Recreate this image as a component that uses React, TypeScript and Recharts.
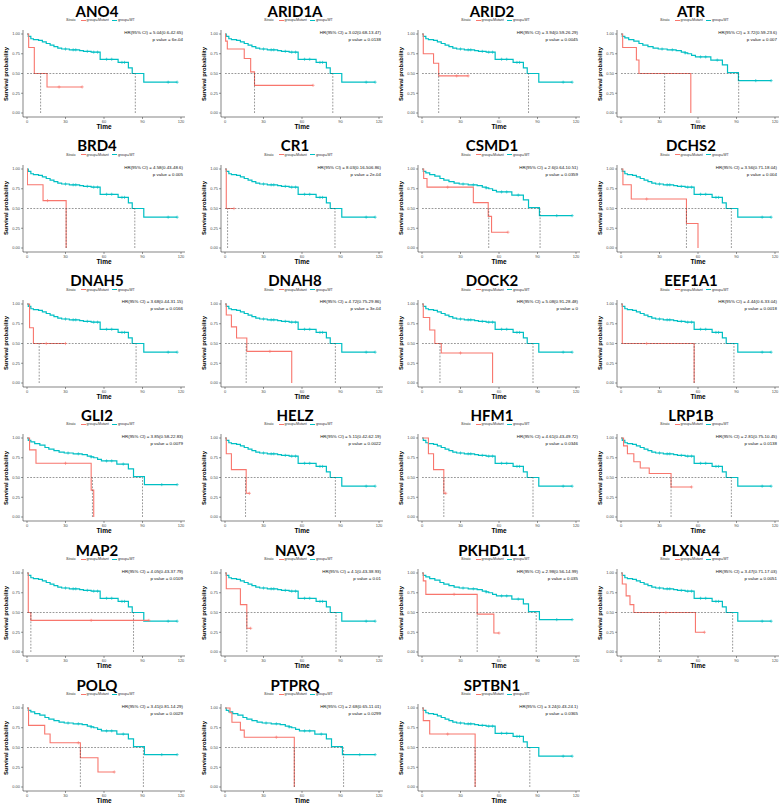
import React from 'react'
import { LineChart, Line, XAxis, YAxis, ReferenceLine } from 'recharts'

// [time, survival, censored?]
type Pt = [number, number, number?]

const genes = [
  'ANO4', 'ARID1A', 'ARID2', 'ATR',
  'BRD4', 'CR1', 'CSMD1', 'DCHS2',
  'DNAH5', 'DNAH8', 'DOCK2', 'EEF1A1',
  'GLI2', 'HELZ', 'HFM1', 'LRP1B',
  'MAP2', 'NAV3', 'PKHD1L1', 'PLXNA4',
  'POLQ', 'PTPRQ', 'SPTBN1',
]

const hrText = [
  '5.04(0.6-42.65)', '3.02(0.68-13.47)', '3.94(0.59-26.29)', '3.72(0.59-23.6)',
  '4.58(0.43-48.6)', '8.03(0.16-506.86)', '2.6(0.64-10.51)', '3.56(0.71-18.04)',
  '3.68(0.44-31.15)', '4.72(0.75-29.86)', '5.08(0.91-28.48)', '4.44(0.6-33.04)',
  '3.85(0.58-22.83)', '5.11(0.42-62.19)', '4.61(0.43-49.72)', '2.81(0.75-10.45)',
  '4.05(0.43-37.79)', '4.1(0.43-38.93)', '2.98(0.56-14.99)', '3.47(0.71-17.03)',
  '3.41(0.81-14.29)', '2.68(0.65-11.01)', '3.24(0.43-24.1)',
]

const pValues = [
  '6e-04', '0.0138', '0.0045', '0.007',
  '0.005', '2e-04', '0.0359', '0.004',
  '0.0166', '3e-04', '0', '0.0018',
  '0.0079', '0.0022', '0.0346', '0.0138',
  '0.0109', '0.01', '0.035', '0.0051',
  '0.0029', '0.0299', '0.0365',
]

const mutMedian = [10.6, 23, 13, 34, 30.5, 2, 52, 51, 9.5, 16.5, 14, 57, 51, 16, 17, 39, 3, 17, 43, 30, 41.6, 54, 41.4]
const wtMedian = [84.4, 84, 83, 91.7, 84, 85.7, 92, 86, 85, 86, 86.5, 88, 90, 86, 86.5, 86, 83, 86.5, 89, 87, 90.7, 92.4, 84]

// wild-type curves (two shapes seen across panels)
const wtA: Pt[] = [
  [0, 1], [1, 0.97], [3, 0.94], [5, 0.93], [9, 0.92], [12, 0.9], [15, 0.88], [18, 0.86],
  [21, 0.84], [24, 0.82], [27, 0.81], [30, 0.81, 1], [33, 0.8], [36, 0.8, 1], [38, 0.8, 1],
  [41, 0.79], [44, 0.78], [47, 0.78, 1], [50, 0.77], [52, 0.77, 1], [55, 0.77, 1], [57, 0.68],
  [62, 0.68, 1], [66, 0.68, 1], [71, 0.64], [74, 0.64, 1], [76, 0.64, 1], [79, 0.57], [82, 0.5],
  [91, 0.39], [110, 0.39, 1], [117, 0.39, 1],
]
const wtB: Pt[] = [
  [0, 1], [1, 0.97], [3, 0.95], [6, 0.93], [10, 0.91], [14, 0.88], [17, 0.86], [21, 0.84],
  [25, 0.82], [29, 0.81], [32, 0.81, 1], [36, 0.8], [40, 0.8, 1], [43, 0.79], [47, 0.77],
  [50, 0.76, 1], [52, 0.75], [55, 0.73], [58, 0.71], [62, 0.71, 1], [66, 0.71, 1], [70, 0.67],
  [75, 0.67, 1], [79, 0.61], [83, 0.51], [91.5, 0.41], [105, 0.41, 1], [117, 0.41, 1],
]
const wtLateGenes = ['ATR', 'CSMD1', 'GLI2', 'PKHD1L1', 'POLQ', 'PTPRQ']

// mutant curves
const ano4Mut: Pt[] = [[0, 1], [1.3, 0.83], [5.7, 0.5], [15.6, 0.33], [25, 0.33, 1], [43, 0.33, 1]]
const arid1aMut: Pt[] = [[0, 1], [0.5, 0.91], [1.8, 0.81], [15, 0.69], [20, 0.52], [23, 0.35], [68.6, 0.35, 1]]
const arid2Mut: Pt[] = [[0, 1], [1, 0.75], [9, 0.63], [13, 0.47], [27, 0.47, 1], [36, 0.47, 1]]
const atrMut: Pt[] = [[0, 1], [1.3, 0.83], [12, 0.67], [14, 0.5], [54.4, 0]]
const brd4Mut: Pt[] = [[0, 1], [0.3, 0.8], [12.5, 0.6], [16, 0.6, 1], [30.5, 0]]
const cr1Mut: Pt[] = [[0, 1], [1, 0.5], [7, 0.5, 1]]
const csmd1Mut: Pt[] = [[0, 1], [1.3, 0.88], [3.9, 0.77], [20, 0.77, 1], [40, 0.575], [51.6, 0.4], [54.2, 0.2], [67, 0.2, 1]]
const dchs2Mut: Pt[] = [[0, 1], [1.5, 0.8], [8, 0.62], [20, 0.62, 1], [51, 0.31], [60, 0]]
const dnah5Mut: Pt[] = [[0, 1], [2, 0.7], [5, 0.5], [15, 0.5, 1], [30, 0.5, 1]]
const dnah8Mut: Pt[] = [[0, 1], [1, 0.86], [5, 0.71], [9, 0.57], [17, 0.4], [35, 0.4, 1], [52, 0]]
const dock2Mut: Pt[] = [[0, 1], [1, 0.83], [6, 0.67], [10, 0.5], [15, 0.38], [30, 0.38, 1], [55, 0]]
const eef1a1Mut: Pt[] = [[0, 1], [1, 0.5], [20, 0.5, 1], [57, 0]]
const gli2Mut: Pt[] = [[0, 1], [2, 0.85], [7, 0.68], [30, 0.68, 1], [50, 0.34], [52, 0]]
const helzMut: Pt[] = [[0, 1], [1, 0.8], [5, 0.6], [16.5, 0.3], [19, 0.3, 1]]
const hfm1Mut: Pt[] = [[0, 1], [5, 0.8], [9, 0.6], [17, 0.3], [18.5, 0.3, 1]]
const lrp1bMut: Pt[] = [[0, 1], [2, 0.9], [5, 0.8], [10, 0.7], [15, 0.62], [22, 0.55], [39, 0.38], [55, 0.38, 1]]
const map2Mut: Pt[] = [[0, 1], [1, 0.5], [3, 0.4], [50, 0.4, 1], [95, 0.4, 1]]
const nav3Mut: Pt[] = [[0, 1], [1, 0.8], [12, 0.6], [17, 0.3], [20, 0.3, 1]]
const pkhd1l1Mut: Pt[] = [[0, 1], [1, 0.9], [3, 0.73], [25, 0.73, 1], [43, 0.48], [56, 0.24], [60, 0.24, 1]]
const plxna4Mut: Pt[] = [[0, 1], [1, 0.86], [4, 0.71], [7, 0.6], [10, 0.5], [35, 0.5, 1], [58, 0.25], [65, 0.25, 1]]
const polqMut: Pt[] = [[0, 1], [1.2, 0.78], [13.8, 0.67], [18, 0.56], [40, 0.56, 1], [41.6, 0.37], [55.3, 0.19], [68, 0.19, 1]]
const ptprqMut: Pt[] = [[0, 1], [3.9, 0.94], [5.4, 0.82], [12, 0.72], [15, 0.63], [40, 0.63, 1], [54, 0]]
const sptbn1Mut: Pt[] = [[0, 1], [1, 0.84], [6, 0.67], [20, 0.67, 1], [41.4, 0]]

const mutCurves = [
  ano4Mut, arid1aMut, arid2Mut, atrMut, brd4Mut, cr1Mut, csmd1Mut, dchs2Mut,
  dnah5Mut, dnah8Mut, dock2Mut, eef1a1Mut, gli2Mut, helzMut, hfm1Mut, lrp1bMut,
  map2Mut, nav3Mut, pkhd1l1Mut, plxna4Mut, polqMut, ptprqMut, sptbn1Mut,
]

const xTicks = [0, 30, 60, 90, 120]
const yTicks = [0, 0.25, 0.5, 0.75, 1]

const RED = '#F8766D'
const TEAL = '#00BFC4'
const colX = [0, 198, 395, 594]
const rowY = [0, 134.8, 269.6, 404.4, 539.2, 674]

const toRows = (pts: Pt[]) => pts.map(([t, s, c]) => ({ t, s, c: c ? 1 : 0 }))

function censorDot(color: string) {
  return (props: any) => {
    const { cx, cy, payload, index } = props
    if (!payload || !payload.c || cx == null) return <g key={`d${index}`} />
    return (
      <path
        key={`d${index}`}
        d={`M${cx - 1.6},${cy}H${cx + 1.6}M${cx},${cy - 1.6}V${cy + 1.6}`}
        stroke={color}
        strokeWidth={0.6}
      />
    )
  }
}

const small = { fontFamily: '"Liberation Sans", Arial, sans-serif' }

function KmPanel({ i }: { i: number }) {
  const left = colX[i % 4]
  const top = rowY[Math.floor(i / 4)]
  const mm = mutMedian[i]
  const wm = wtMedian[i]
  const wt = wtLateGenes.includes(genes[i]) ? wtB : wtA
  const dash = { stroke: '#444', strokeWidth: 0.55, strokeDasharray: '1.8 1.4' }

  return (
    <div style={{ position: 'absolute', left, top, width: 190, height: 134 }}>
      <div style={{
        position: 'absolute', left: 0, width: 194, top: 3.5, textAlign: 'center',
        fontFamily: 'Lato, sans-serif', fontWeight: 700, fontSize: 15, lineHeight: '15px',
      }}>{genes[i]}</div>

      <div style={{
        ...small, position: 'absolute', left: 66, top: 18, fontSize: 3.6, lineHeight: '4px',
        display: 'flex', alignItems: 'center', color: '#333', whiteSpace: 'nowrap',
      }}>
        <span style={{ fontStyle: 'italic', marginRight: 5 }}>Strata</span>
        <span style={{ width: 5, height: 0.8, background: RED, marginRight: 1 }} />
        <span style={{ marginRight: 3 }}>group=Mutant</span>
        <span style={{ width: 5, height: 0.8, background: TEAL, marginRight: 1 }} />
        <span>group=WT</span>
      </div>

      <div style={{
        ...small, position: 'absolute', right: 7, top: 28.8, fontSize: 4.4, lineHeight: '7px',
        textAlign: 'right', color: '#111', whiteSpace: 'nowrap',
      }}>
        <div>HR(95% CI) = {hrText[i]}</div>
        <div>p value = {pValues[i]}</div>
      </div>

      <div style={{
        ...small, position: 'absolute', left: 6 - 40, top: 73.5 - 4, width: 80, height: 8,
        textAlign: 'center', transform: 'rotate(-90deg)', fontWeight: 700, fontSize: 5.8,
        lineHeight: '8px',
      }}>Survival probability</div>

      <div style={{
        ...small, position: 'absolute', left: 104 - 20, top: 123, width: 40, textAlign: 'center',
        fontWeight: 700, fontSize: 6.5, lineHeight: '8px',
      }}>Time</div>

      <LineChart width={190} height={134} margin={{ top: 30, right: 5, bottom: 3, left: 0 }}>
        <XAxis
          type="number" dataKey="t" domain={[0, 120]} ticks={xTicks} allowDataOverflow
          padding={{ left: 4, right: 4 }} height={14} tickSize={2} tickMargin={1}
          tick={{ fontSize: 4, fill: '#4d4d4d', fontFamily: 'Liberation Sans' }}
          axisLine={{ stroke: '#333', strokeWidth: 0.6 }} tickLine={{ stroke: '#333', strokeWidth: 0.5 }}
        />
        <YAxis
          type="number" dataKey="s" domain={[0, 1]} ticks={yTicks} width={23}
          padding={{ top: 4, bottom: 4 }} tickSize={2} tickMargin={1}
          tickFormatter={(v: number) => v.toFixed(2)}
          tick={{ fontSize: 4, fill: '#4d4d4d', fontFamily: 'Liberation Sans' }}
          axisLine={{ stroke: '#333', strokeWidth: 0.6 }} tickLine={{ stroke: '#333', strokeWidth: 0.5 }}
        />
        <Line
          data={toRows(wt)} dataKey="s" type="stepAfter" stroke={TEAL} strokeWidth={1.2}
          dot={censorDot(TEAL)} activeDot={false} isAnimationActive={false}
        />
        <Line
          data={toRows(mutCurves[i])} dataKey="s" type="stepAfter" stroke={RED} strokeWidth={1.1}
          dot={censorDot(RED)} activeDot={false} isAnimationActive={false}
        />
        <ReferenceLine segment={[{ x: 0, y: 0.5 }, { x: Math.max(mm, wm), y: 0.5 }]} {...dash} />
        <ReferenceLine segment={[{ x: mm, y: 0 }, { x: mm, y: 0.5 }]} {...dash} />
        <ReferenceLine segment={[{ x: wm, y: 0 }, { x: wm, y: 0.5 }]} {...dash} />
      </LineChart>
    </div>
  )
}

export default function App() {
  return (
    <div style={{
      position: 'absolute', left: 0, top: 0, width: 784, height: 806,
      background: '#fff', overflow: 'hidden',
    }}>
      {genes.map((g, i) => <KmPanel key={g} i={i} />)}
    </div>
  )
}
